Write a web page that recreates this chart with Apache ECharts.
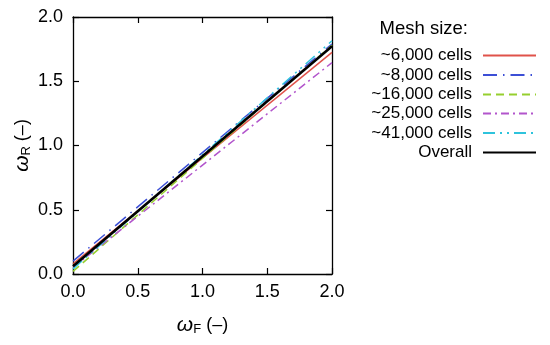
<!DOCTYPE html>
<html>
<head>
<meta charset="utf-8">
<script src="https://cdn.jsdelivr.net/npm/echarts@6/dist/echarts.min.js"></script>
<style>html,body{margin:0;padding:0;background:#fff}#c{width:550px;height:345px}</style>
</head>
<body>
<div id="c"></div>
<script>
var xEnds = [0, 2];
var seriesNames = ['~6,000 cells', '~8,000 cells', '~16,000 cells', '~25,000 cells', '~41,000 cells', 'Overall'];
var red6000 = [0.08, 1.725];
var blue8000 = [0.10, 1.79];
var green16000 = [0.02, 1.78];
var purple25000 = [0.05, 1.645];
var cyan41000 = [0.04, 1.815];
var overall = [0.06, 1.772];
var xTicks = [0.0, 0.5, 1.0, 1.5, 2.0];
var yTicks = [0.0, 0.5, 1.0, 1.5, 2.0];

var values = [red6000, blue8000, green16000, purple25000, cyan41000, overall];
var colors = ['#e0524a', '#3c4fd6', '#96cf2e', '#b255cc', '#2ec3dc', '#000000'];
var dashes = ['solid', [14, 6, 1.5, 6], [8, 5], [8, 4, 2, 4], [12, 5, 2, 5, 2, 5], 'solid'];
var widths = [1.5, 1.5, 1.5, 1.5, 1.5, 2.6];

var font = '"Liberation Sans", Arial, Helvetica, sans-serif';
var chart = echarts.init(document.getElementById('c'), null, {renderer: 'canvas'});

var series = values.map(function (v, i) {
  return {
    name: seriesNames[i],
    type: 'line',
    data: xEnds.map(function (x, k) { return [x, v[k]]; }),
    symbol: 'none',
    z: i === 5 ? 10 : 2,
    lineStyle: {color: colors[i], type: dashes[i], width: widths[i]},
    itemStyle: {color: colors[i]}
  };
});

var legendCenters = [56, 75.5, 95, 114, 133.5, 153];
var legends = seriesNames.map(function (n, i) {
  return {
    data: [n],
    right: 13,
    top: legendCenters[i] - 9,
    orient: 'vertical',
    align: 'right',
    itemWidth: 53,
    itemHeight: 18,
    itemGap: 0,
    padding: 0,
    itemStyle: {opacity: 0},
    textStyle: {fontFamily: font, fontSize: 17, color: '#000', padding: [0, 6, 0, 0]},
    selectedMode: false
  };
});

var axisCommon = {
  type: 'value', min: 0, max: 2, interval: 0.5,
  axisLine: {show: true, onZero: false, lineStyle: {color: '#000', width: 1.3}},
  axisTick: {show: true, inside: true, length: 6, lineStyle: {color: '#000', width: 1.2}},
  splitLine: {show: false}
};
var nameRich = {
  w: {fontFamily: font, fontSize: 21, fontStyle: 'italic', color: '#000'},
  s: {fontFamily: font, fontSize: 13, color: '#000', verticalAlign: 'bottom', padding: [9, 0, 0, 0]},
  t: {fontFamily: font, fontSize: 18, color: '#000', padding: [0, 0, 0, 5]}
};

chart.setOption({
  animation: false,
  backgroundColor: '#fff',
  title: {
    text: 'Mesh size:', right: 77, top: 14,
    textStyle: {fontFamily: font, fontSize: 18.5, fontWeight: 'normal', color: '#000'}
  },
  grid: {left: 73, right: 218, top: 17, bottom: 71},
  legend: legends,
  xAxis: [
    Object.assign({}, axisCommon, {
      position: 'bottom',
      name: '{w|ω}{s|F}{t|(–)}', nameLocation: 'middle', nameGap: 40,
      nameTextStyle: {rich: nameRich},
      axisLabel: {fontFamily: font, fontSize: 18, color: '#000', margin: 9,
        formatter: function (v) { return xTicks.indexOf(v) >= 0 ? v.toFixed(1) : ''; }}
    }),
    Object.assign({}, axisCommon, {position: 'top', axisLabel: {show: false}})
  ],
  yAxis: [
    Object.assign({}, axisCommon, {
      position: 'left',
      name: '{w|ω}{s|R}{t|(–)}', nameLocation: 'middle', nameGap: 40,
      nameTextStyle: {rich: nameRich},
      axisLabel: {fontFamily: font, fontSize: 18, color: '#000', margin: 10,
        formatter: function (v) { return yTicks.indexOf(v) >= 0 ? v.toFixed(1) : ''; }}
    }),
    Object.assign({}, axisCommon, {position: 'right', axisLabel: {show: false}})
  ],
  series: series
});
</script>
</body>
</html>
